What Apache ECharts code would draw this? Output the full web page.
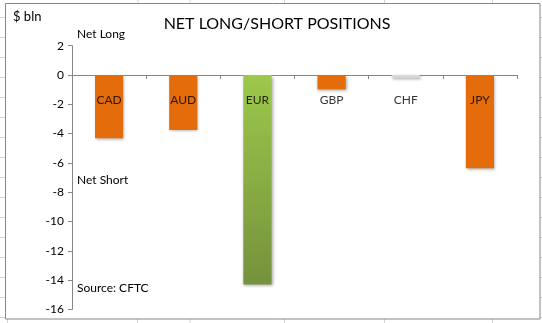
<!DOCTYPE html>
<html>
<head>
<meta charset="utf-8">
<script src="https://cdn.jsdelivr.net/npm/echarts@6/dist/echarts.min.js"></script>
<style>
html,body{margin:0;padding:0;background:#fff;}
#c{width:542px;height:323px;}
</style>
</head>
<body>
<div id="c"></div>
<script>
var categories = ['CAD', 'AUD', 'EUR', 'GBP', 'CHF', 'JPY'];
var values = [-4.32, -3.75, -14.3, -0.98, -0.18, -6.37];
var yTicks = [-16, -14, -12, -10, -8, -6, -4, -2, 0, 2];

var FONT = 'Lato, "Open Sans", sans-serif';
var orange = '#E46C0A';
var barColors = {
  CAD: orange, AUD: orange, JPY: orange, GBP: orange,
  CHF: '#D9D9D9',
  EUR: new echarts.graphic.LinearGradient(0, 0, 0, 1, [
    {offset: 0, color: '#9CC84B'}, {offset: 1, color: '#75923C'}
  ])
};

var chart = echarts.init(document.getElementById('c'), null, {renderer: 'canvas'});

var sheetLines = [];
var gridColor = '#D4D4D4';
[138, 190, 284.5, 384.5, 492.5].forEach(function (x) {
  sheetLines.push({type: 'line', silent: true, shape: {x1: x, y1: 0, x2: x, y2: 3}, style: {stroke: gridColor, lineWidth: 1}});
});
[7.5, 137.5, 190, 284.5, 384.5, 492.5].forEach(function (x) {
  sheetLines.push({type: 'line', silent: true, shape: {x1: x, y1: 319, x2: x, y2: 323}, style: {stroke: gridColor, lineWidth: 1}});
});
for (var yy = 17.5; yy < 323; yy += 20) {
  sheetLines.push({type: 'line', silent: true, shape: {x1: 0, y1: yy, x2: 5, y2: yy}, style: {stroke: gridColor, lineWidth: 1}});
  sheetLines.push({type: 'line', silent: true, shape: {x1: 540, y1: yy, x2: 542, y2: yy}, style: {stroke: gridColor, lineWidth: 1}});
}

var option = {
  animation: false,
  backgroundColor: '#ffffff',
  textStyle: {fontFamily: FONT},
  title: {
    text: 'NET LONG/SHORT POSITIONS',
    left: 272, top: 11, textAlign: 'center',
    textStyle: {fontFamily: FONT, fontSize: 16, fontWeight: 'normal', color: '#000'}
  },
  grid: {left: 72, right: 25, top: 45.7, bottom: 13.6, outerBoundsMode: 'none', containLabel: false},
  xAxis: {
    type: 'category',
    data: categories,
    axisLine: {onZero: true, lineStyle: {color: '#868686', width: 1}},
    axisTick: {show: true, length: 4, interval: 0, inside: false, lineStyle: {color: '#868686'}},
    axisLabel: {show: false},
    splitLine: {show: false}
  },
  yAxis: {
    type: 'value',
    min: yTicks[0], max: yTicks[yTicks.length - 1], interval: 2,
    axisLine: {show: true, lineStyle: {color: '#868686'}},
    axisTick: {show: true, length: 4, lineStyle: {color: '#868686'}},
    axisLabel: {margin: 8, color: '#000', fontSize: 12, fontFamily: FONT},
    splitLine: {show: false}
  },
  series: [{
    type: 'bar',
    data: values.map(function (v, i) {
      return {value: v, itemStyle: {color: barColors[categories[i]]}};
    }),
    barWidth: '38%',
    itemStyle: {shadowColor: 'rgba(0,0,0,0.35)', shadowBlur: 3, shadowOffsetX: 1, shadowOffsetY: 1.5}
  }, {
    type: 'scatter',
    data: categories.map(function (c) { return [c, 0]; }),
    symbolSize: 0,
    silent: true,
    z: 10,
    label: {
      show: true, position: 'bottom', distance: 19,
      formatter: function (p) { return p.name || p.value[0]; },
      color: '#000', fontSize: 12, fontFamily: FONT
    }
  }],
  graphic: sheetLines.concat([
    {type: 'rect', silent: true, shape: {x: 5.5, y: 3.5, width: 534.5, height: 315.5},
     style: {fill: 'none', stroke: '#868686', lineWidth: 1}, z: 100},
    {type: 'text', left: 13, top: 10, style: {text: '$ bln', font: '13px ' + FONT, fill: '#000'}},
    {type: 'text', left: 77, top: 28, style: {text: 'Net Long', font: '12px ' + FONT, fill: '#000'}},
    {type: 'text', left: 77, top: 174, style: {text: 'Net Short', font: '12px ' + FONT, fill: '#000'}},
    {type: 'text', left: 77, top: 282, style: {text: 'Source: CFTC', font: '12px ' + FONT, fill: '#000'}}
  ])
};
chart.setOption(option);
</script>
</body>
</html>
